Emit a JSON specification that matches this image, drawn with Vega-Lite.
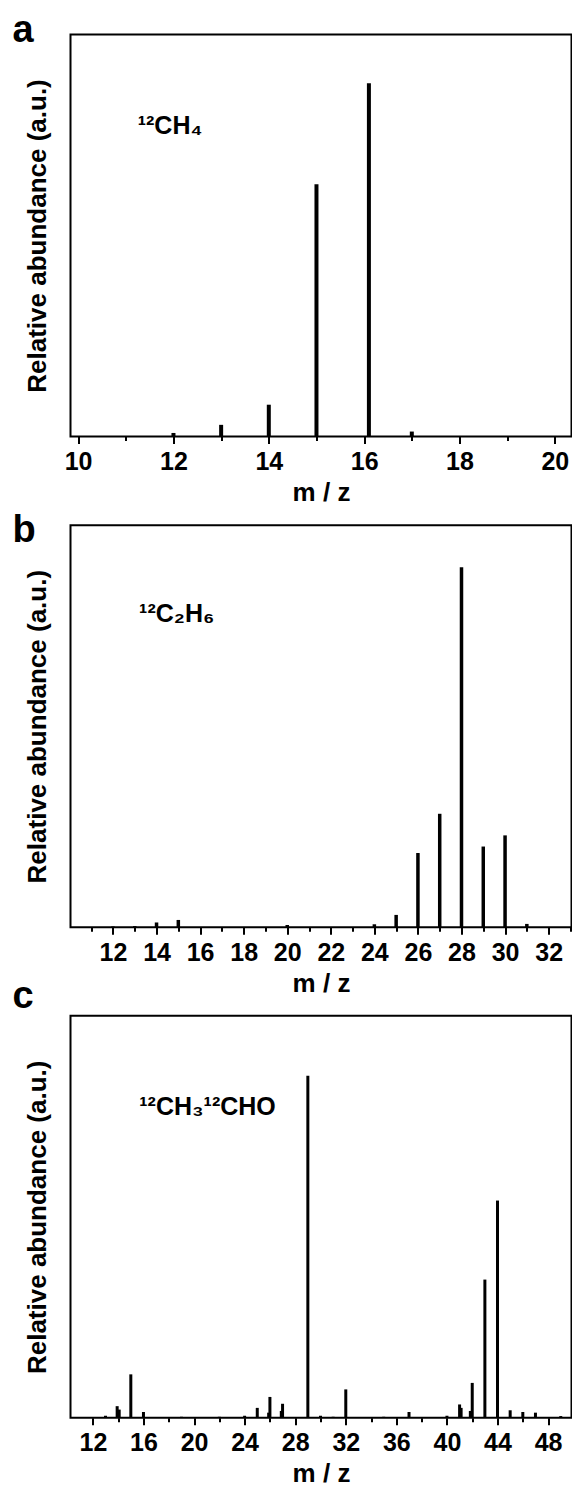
{
  "$schema": "https://vega.github.io/schema/vega-lite/v6.json",
  "background": "white",
  "padding": {"left": 11.5, "top": 10.5, "right": 0, "bottom": 0},
  "spacing": 88.65,
  "bounds": "flush",
  "config": {
    "font": "Liberation Sans",
    "view": {"stroke": "black", "strokeWidth": 2},
    "axis": {
      "grid": false, "domain": false,
      "tickColor": "black", "tickWidth": 2,
      "labelColor": "black", "labelFont": "Liberation Sans", "labelFontWeight": "bold", "labelFontSize": 25,
      "labelFlush": false, "labelOverlap": false, "labelBound": false, "labelPadding": 6,
      "titleColor": "black", "titleFont": "Liberation Sans", "titleFontWeight": "bold", "titleFontSize": 26
    },
    "axisX": {"titlePadding": 5, "tickCount": 60, "format": "d"},
    "axisY": {"titlePadding": 20, "ticks": false, "labels": false},
    "title": {"anchor": "start", "frame": "group", "orient": "top", "font": "Liberation Sans", "fontSize": 38, "fontWeight": "bold", "color": "black", "baseline": "alphabetic", "offset": 0, "dx": -58}
  },
  "vconcat": [
    {
      "width": 501, "height": 402,
      "title": {"text": "a", "dy": 19},
      "layer": [
        {
          "data": {"values": [
            {"mz": 12, "ab": 1.0}, {"mz": 13, "ab": 3.3}, {"mz": 14, "ab": 9.0},
            {"mz": 15, "ab": 71.4}, {"mz": 16.1, "ab": 100}, {"mz": 17, "ab": 1.4}
          ]},
          "mark": {"type": "rule", "strokeWidth": 4, "color": "black"},
          "encoding": {
            "x": {"field": "mz", "type": "quantitative",
              "scale": {"domain": [9.84, 20.35], "nice": false, "zero": false},
              "axis": {"title": "m / z", "tickCount": 60, "format": "d", "values": [10, 11, 12, 13, 14, 15, 16, 17, 18, 19, 20],
                "labelExpr": "datum.value % 2 === 0 ? datum.label : ''",
                "tickSize": {"condition": {"test": "datum.value % 2 !== 0", "value": 4}, "value": 7}}},
            "y": {"field": "ab", "type": "quantitative",
              "scale": {"domain": [0, 113.8], "nice": false},
              "axis": {"title": "Relative abundance (a.u.)"}},
            "y2": {"datum": 0}
          }
        },
        {
          "data": {"values": [{"label": "¹²CH₄"}]},
          "mark": {"type": "text", "align": "left", "baseline": "alphabetic", "font": "Liberation Sans", "fontSize": 25, "fontWeight": "bold", "color": "black"},
          "encoding": {
            "x": {"datum": 11.25, "type": "quantitative"},
            "y": {"datum": 85.5, "type": "quantitative"},
            "text": {"field": "label"}
          }
        }
      ]
    },
    {
      "width": 501, "height": 402,
      "title": {"text": "b", "dy": 28.6},
      "layer": [
        {
          "data": {"values": [
            {"mz": 12, "ab": 0.2}, {"mz": 13, "ab": 0.3}, {"mz": 14, "ab": 1.3}, {"mz": 15, "ab": 2.0},
            {"mz": 20, "ab": 0.6}, {"mz": 24, "ab": 0.8}, {"mz": 25, "ab": 3.4}, {"mz": 26, "ab": 20.6},
            {"mz": 27, "ab": 31.5}, {"mz": 28, "ab": 100}, {"mz": 29, "ab": 22.4}, {"mz": 30, "ab": 25.5},
            {"mz": 31, "ab": 0.9}
          ]},
          "mark": {"type": "rule", "strokeWidth": 3.5, "color": "black"},
          "encoding": {
            "x": {"field": "mz", "type": "quantitative",
              "scale": {"domain": [10.05, 33.05], "nice": false, "zero": false},
              "axis": {"title": "m / z", "tickCount": 60, "format": "d", "values": [11, 12, 13, 14, 15, 16, 17, 18, 19, 20, 21, 22, 23, 24, 25, 26, 27, 28, 29, 30, 31, 32, 33],
                "labelExpr": "datum.value % 2 === 0 ? datum.label : ''",
                "tickSize": {"condition": {"test": "datum.value % 2 !== 0", "value": 4}, "value": 7}}},
            "y": {"field": "ab", "type": "quantitative",
              "scale": {"domain": [0, 111.7], "nice": false},
              "axis": {"title": "Relative abundance (a.u.)"}},
            "y2": {"datum": 0}
          }
        },
        {
          "data": {"values": [{"label": "¹²C₂H₆"}]},
          "mark": {"type": "text", "align": "left", "baseline": "alphabetic", "font": "Liberation Sans", "fontSize": 25, "fontWeight": "bold", "color": "black"},
          "encoding": {
            "x": {"datum": 13.2, "type": "quantitative"},
            "y": {"datum": 84.7, "type": "quantitative"},
            "text": {"field": "label"}
          }
        }
      ]
    },
    {
      "width": 501, "height": 402,
      "title": {"text": "c", "dy": 3.7},
      "layer": [
        {
          "data": {"values": [
            {"mz": 12, "ab": 0.2}, {"mz": 13, "ab": 0.6}, {"mz": 13.92, "ab": 3.4}, {"mz": 14.08, "ab": 2.4},
            {"mz": 15, "ab": 12.7}, {"mz": 16, "ab": 1.7}, {"mz": 17, "ab": 0.2}, {"mz": 19, "ab": 0.3},
            {"mz": 22, "ab": 0.3}, {"mz": 24, "ab": 0.6}, {"mz": 25, "ab": 2.9}, {"mz": 25.9, "ab": 1.5},
            {"mz": 26, "ab": 6.1}, {"mz": 26.9, "ab": 2.0}, {"mz": 27, "ab": 4.1}, {"mz": 29, "ab": 100},
            {"mz": 30, "ab": 0.6}, {"mz": 31, "ab": 0.3}, {"mz": 32, "ab": 8.3}, {"mz": 33, "ab": 0.2},
            {"mz": 35, "ab": 0.3}, {"mz": 37, "ab": 1.7}, {"mz": 40, "ab": 0.6}, {"mz": 41, "ab": 3.9},
            {"mz": 41.12, "ab": 2.9}, {"mz": 41.85, "ab": 2.0}, {"mz": 42, "ab": 10.2}, {"mz": 43, "ab": 40.4},
            {"mz": 44, "ab": 63.5}, {"mz": 45, "ab": 2.2}, {"mz": 46, "ab": 1.7}, {"mz": 47, "ab": 1.5},
            {"mz": 49, "ab": 0.5}
          ]},
          "mark": {"type": "rule", "strokeWidth": 3, "color": "black"},
          "encoding": {
            "x": {"field": "mz", "type": "quantitative",
              "scale": {"domain": [10.23, 49.85], "nice": false, "zero": false},
              "axis": {"title": "m / z", "tickCount": 60, "format": "d", "values": [12, 14, 16, 18, 20, 22, 24, 26, 28, 30, 32, 34, 36, 38, 40, 42, 44, 46, 48],
                "labelExpr": "datum.value % 4 === 0 ? datum.label : ''",
                "tickSize": {"condition": {"test": "datum.value % 4 !== 0", "value": 4}, "value": 7}}},
            "y": {"field": "ab", "type": "quantitative",
              "scale": {"domain": [0, 117.5], "nice": false},
              "axis": {"title": "Relative abundance (a.u.)"}},
            "y2": {"datum": 0}
          }
        },
        {
          "data": {"values": [{"label": "¹²CH₃¹²CHO"}]},
          "mark": {"type": "text", "align": "left", "baseline": "alphabetic", "font": "Liberation Sans", "fontSize": 25, "fontWeight": "bold", "color": "black"},
          "encoding": {
            "x": {"datum": 15.67, "type": "quantitative"},
            "y": {"datum": 88.6, "type": "quantitative"},
            "text": {"field": "label"}
          }
        }
      ]
    }
  ]
}
